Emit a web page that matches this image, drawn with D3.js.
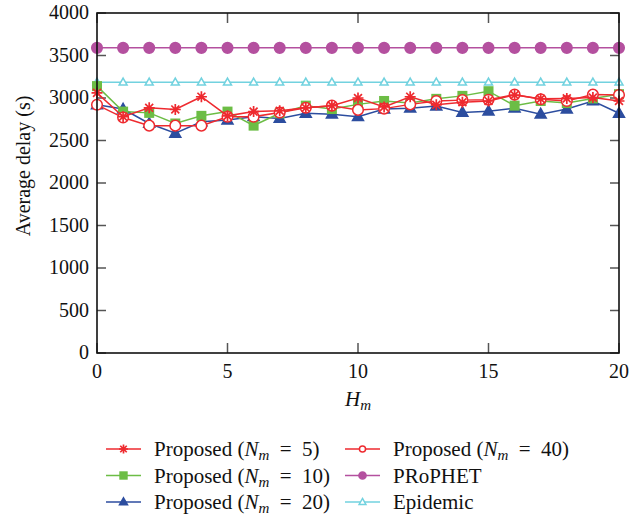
<!DOCTYPE html>
<html><head><meta charset="utf-8">
<script src="https://cdn.jsdelivr.net/npm/d3@7"></script>
<style>body{margin:0;background:#fff}</style>
</head><body><svg id="c" width="643" height="516"></svg>
<script>
const hm = [0,1,2,3,4,5,6,7,8,9,10,11,12,13,14,15,16,17,18,19,20];
const n5  = [3060,2780,2885,2865,3015,2790,2840,2850,2885,2910,3000,2895,3015,2920,2950,2965,3035,2990,2995,3005,2965];
const n10 = [3140,2840,2825,2700,2790,2840,2675,2820,2910,2870,2925,2965,2940,2990,3025,3080,2910,2965,2940,2995,3045];
const n20 = [2920,2870,2700,2585,2720,2740,2780,2760,2820,2810,2780,2870,2880,2905,2830,2845,2880,2810,2870,2965,2820];
const n40 = [2920,2770,2675,2675,2675,2780,2780,2830,2885,2910,2860,2875,2925,2965,2975,2980,3040,2985,2965,3040,3035];
const prophet  = [3590,3590,3590,3590,3590,3590,3590,3590,3590,3590,3590,3590,3590,3590,3590,3590,3590,3590,3590,3590,3590];
const epidemic = [3185,3185,3185,3185,3185,3185,3185,3185,3185,3185,3185,3185,3185,3185,3185,3185,3185,3185,3185,3185,3185];
const xTicks = [0,5,10,15,20];
const yTicks = [0,500,1000,1500,2000,2500,3000,3500,4000];

const FONT = "Liberation Serif";
const series = [
  {name:"Epidemic", vals:epidemic, color:"#72d2df", marker:"tri", fill:false},
  {name:"PRoPHET", vals:prophet, color:"#b4509f", marker:"circle", fill:true},
  {name:"20", vals:n20, color:"#2c4d9f", marker:"tri", fill:true},
  {name:"10", vals:n10, color:"#6cbd45", marker:"square", fill:true},
  {name:"40", vals:n40, color:"#ee2a2f", marker:"circle", fill:false},
  {name:"5",  vals:n5,  color:"#ee2a2f", marker:"star", fill:true}
];

const svg = d3.select("#c");
const L=97,R=619,T=13,B=353;
const x = d3.scaleLinear().domain([0,20]).range([L,R]);
const y = d3.scaleLinear().domain([0,4000]).range([B,T]);

function txt(sel){ return sel.attr("font-family", FONT).attr("fill","#111"); }

function drawMarker(g, type, color, fill, cx, cy, s){
  if(type==="star"){
    const r=s;
    const d=`M${cx-r},${cy}L${cx+r},${cy}M${cx},${cy-r}L${cx},${cy+r}M${cx-r*0.72},${cy-r*0.72}L${cx+r*0.72},${cy+r*0.72}M${cx-r*0.72},${cy+r*0.72}L${cx+r*0.72},${cy-r*0.72}`;
    g.append("path").attr("d",d).attr("stroke",color).attr("stroke-width",1.7).attr("fill","none");
  } else if(type==="square"){
    g.append("rect").attr("x",cx-s).attr("y",cy-s).attr("width",2*s).attr("height",2*s).attr("fill",color);
  } else if(type==="circle"){
    g.append("circle").attr("cx",cx).attr("cy",cy).attr("r",s)
      .attr("fill",fill?color:"#fff").attr("stroke",color).attr("stroke-width",1.5);
  } else if(type==="tri"){
    const h=s;
    const d=`M${cx},${cy-h*1.05}L${cx+h},${cy+h*0.7}L${cx-h},${cy+h*0.7}Z`;
    g.append("path").attr("d",d).attr("fill",fill?color:"#fff").attr("stroke",color).attr("stroke-width",1.5);
  }
}
const msize = {star:5.5, square:5, circle:5.3, tri:5.5};
const msizeOpen = {tri:4, circle:5.3};

// ticks
const ax = svg.append("g").attr("stroke","#555").attr("stroke-width",1.5);
yTicks.forEach(v=>{
  ax.append("line").attr("x1",L).attr("x2",L+9).attr("y1",y(v)).attr("y2",y(v));
  ax.append("line").attr("x1",R).attr("x2",R-9).attr("y1",y(v)).attr("y2",y(v));
});
xTicks.forEach(v=>{
  ax.append("line").attr("x1",x(v)).attr("x2",x(v)).attr("y1",B).attr("y2",B-10);
  ax.append("line").attr("x1",x(v)).attr("x2",x(v)).attr("y1",T).attr("y2",T+10);
});

// series
const line = d3.line().x((d,i)=>x(hm[i])).y(d=>y(d));
series.forEach(s=>{
  const g = svg.append("g");
  g.append("path").attr("d",line(s.vals)).attr("fill","none").attr("stroke",s.color).attr("stroke-width",1.5);
  s.vals.forEach((v,i)=>{
    const sz = s.fill ? msize[s.marker] : msizeOpen[s.marker];
    drawMarker(g, s.marker, s.color, s.fill, x(hm[i]), y(v), sz);
  });
});

// frame
svg.append("rect").attr("x",L).attr("y",T).attr("width",R-L).attr("height",B-T)
  .attr("fill","none").attr("stroke","#111").attr("stroke-width",1.6);

// tick labels
yTicks.forEach(v=>{
  txt(svg.append("text")).attr("x",L-8).attr("y",y(v)+6).attr("text-anchor","end")
    .attr("font-size",20).text(v);
});
xTicks.forEach(v=>{
  txt(svg.append("text")).attr("x",x(v)).attr("y",B+25).attr("text-anchor","middle")
    .attr("font-size",20).text(v);
});

// axis titles
txt(svg.append("text")).attr("transform",`translate(30,${(T+B)/2-17}) rotate(-90)`).attr("text-anchor","middle")
  .attr("font-size",20).text("Average delay (s)");
const xt = txt(svg.append("text")).attr("x",(L+R)/2).attr("y",406).attr("text-anchor","middle").attr("font-size",21);
xt.append("tspan").attr("font-style","italic").text("H");
xt.append("tspan").attr("font-style","italic").attr("font-size",15).attr("dy",4).text("m");

// legend
const legendItems = [
  {s:series[5], col:0, row:0, label:"5"},
  {s:series[3], col:0, row:1, label:"10"},
  {s:series[2], col:0, row:2, label:"20"},
  {s:series[4], col:1, row:0, label:"40"},
  {s:series[1], col:1, row:1, label:null, text:"PRoPHET"},
  {s:series[0], col:1, row:2, label:null, text:"Epidemic"}
];
const colX = [106, 345];
legendItems.forEach(it=>{
  const lx = colX[it.col], ly = 449 + it.row*26.5;
  const g = svg.append("g");
  g.append("line").attr("x1",lx).attr("x2",lx+35).attr("y1",ly).attr("y2",ly).attr("stroke",it.s.color).attr("stroke-width",1.5);
  const ms = {star:4.5, square:4.2, circle:3.6, tri:4}[it.s.marker];
  drawMarker(g, it.s.marker, it.s.color, it.s.fill, lx+17.5, ly, it.s.fill?ms:ms*0.85);
  const t = txt(g.append("text")).attr("x",lx+48).attr("y",ly+7).attr("font-size",21);
  if(it.label){
    t.append("tspan").text("Proposed (");
    t.append("tspan").attr("font-style","italic").text("N");
    t.append("tspan").attr("font-style","italic").attr("font-size",15).attr("dy",4).text("m");
    t.append("tspan").attr("dy",-4).text("\u2002=\u2002" + it.label + ")");
  } else {
    t.text(it.text);
  }
});
</script></body></html>
